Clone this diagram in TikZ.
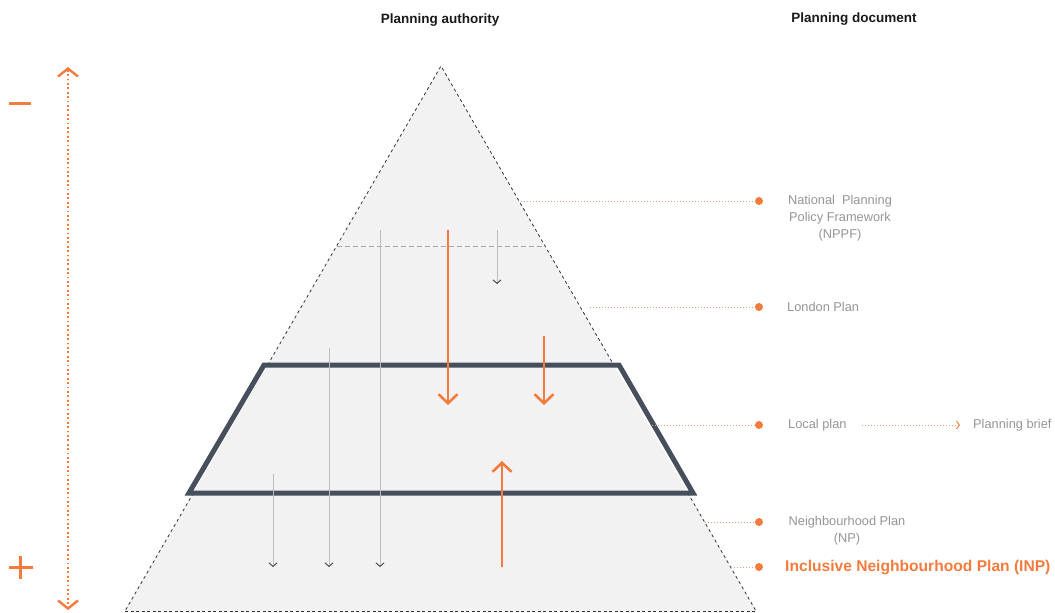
\documentclass[tikz,border=0pt]{standalone}
\usepackage{fontspec}
\setmainfont{Liberation Sans}
\usetikzlibrary{arrows.meta}
\definecolor{org}{HTML}{F47B3E}
\definecolor{lorg}{HTML}{F39A74}
\definecolor{dark}{HTML}{474F5C}
\definecolor{fillg}{HTML}{F2F2F2}
\definecolor{txtg}{HTML}{959595}
\definecolor{arrg}{HTML}{BDBDBD}
\tikzset{
  tridash/.style={draw=black!80, line width=0.8pt, dash pattern=on 3pt off 3pt},
  basedash/.style={draw=black!80, line width=1pt, dash pattern=on 3pt off 2.5pt},
  midline/.style={draw=black!35, line width=1pt, dash pattern=on 5pt off 3pt},
  trap/.style={draw=dark, line width=5pt, line join=miter},
  grayarrow/.style={draw=arrg, line width=1pt, -{Straight Barb[length=3.5pt,width=8pt,color=black!75,line width=0.9pt]}},
  bigarrow/.style={draw=org, line width=2.8pt, -{Straight Barb[length=9pt,width=19pt,line width=2.6pt]}},
  scalearrow/.style={draw=org, line width=1.8pt, dash pattern=on 1.8pt off 2.6pt,
     {Straight Barb[length=8pt,width=20pt,line width=2.4pt]}-{Straight Barb[length=8pt,width=20pt,line width=2.4pt]}},
  leader/.style={draw=lorg, line width=0.9pt, dash pattern=on 1pt off 2pt},
  dotm/.style={circle, fill=org, inner sep=0pt, minimum size=8pt},
  lbl/.style={text=txtg, font=\fontsize{12.8}{17}\selectfont, inner sep=0pt},
  hdr/.style={text=black!90, font=\fontsize{13.5}{16}\selectfont\bfseries, inner sep=0pt},
  sign/.style={draw=org, line width=3pt}
}
\begin{document}
\begin{tikzpicture}[x=1pt,y=-1pt]
\useasboundingbox (0,0) rectangle (1055,613);
% headers
\node[hdr] (h1) at (440,20) {Planning authority};
\node[hdr] (h2) at (854,19) {Planning document};
% pyramid
\coordinate (apex) at (441,66);
\coordinate (bl) at (125,611);
\coordinate (br) at (756,611);
\coordinate (lu) at (267.6,365);
\coordinate (ll) at (193.4,493);
\coordinate (ru) at (613.8,365);
\coordinate (rl) at (687.8,493);
\fill[fillg] (apex) -- (bl) -- (br) -- cycle;
\draw[tridash] (lu) -- (apex) -- (ru);
\draw[tridash] (ll) -- (bl);
\draw[tridash] (rl) -- (br);
\draw[basedash] (bl) -- (br);
\coordinate (ml) at (337,246);
\coordinate (mr) at (545,246);
\draw[midline] (ml) -- (mr);
% trapezoid
\coordinate (t1) at (264,365);
\coordinate (t2) at (619,365);
\coordinate (t3) at (693,493);
\coordinate (t4) at (189,493);
\draw[trap] (t1) -- (t2) -- (t3) -- (t4) -- cycle;
% gray arrows
\coordinate (g1s) at (380,230); \coordinate (g1e) at (380,567);
\coordinate (g2s) at (329,348); \coordinate (g2e) at (329,567);
\coordinate (g3s) at (273,474); \coordinate (g3e) at (273,567);
\coordinate (g4s) at (497,230); \coordinate (g4e) at (497,284);
\draw[grayarrow] (g1s) -- (g1e);
\draw[grayarrow] (g2s) -- (g2e);
\draw[grayarrow] (g3s) -- (g3e);
\draw[grayarrow] (g4s) -- (g4e);
% orange arrows
\coordinate (o1s) at (448,230); \coordinate (o1e) at (448,405);
\coordinate (o2s) at (544,336); \coordinate (o2e) at (544,405);
\coordinate (o3s) at (502,567); \coordinate (o3e) at (502,461);
\draw[bigarrow] (o1s) -- (o1e);
\draw[bigarrow] (o2s) -- (o2e);
\draw[bigarrow] (o3s) -- (o3e);
% scale arrow
\coordinate (s1) at (68,67);
\coordinate (s2) at (68,610);
\draw[scalearrow] (s1) -- (s2);
\coordinate (m1) at (9,103); \coordinate (m2) at (31,103);
\draw[sign] (m1) -- (m2);
\coordinate (p1) at (9,567); \coordinate (p2) at (33,567);
\coordinate (p3) at (20,556); \coordinate (p4) at (20,579);
\draw[sign] (p1) -- (p2);
\draw[sign] (p3) -- (p4);
% leaders and dots
\node[dotm] (d1) at (759,201) {};
\node[dotm] (d2) at (759,307) {};
\node[dotm] (d3) at (759,425) {};
\node[dotm] (d4) at (759,522) {};
\node[dotm] (d5) at (759,567) {};
\coordinate (e1) at (521,201);
\coordinate (e2) at (590,307);
\coordinate (e3) at (652,425);
\coordinate (e4) at (705,522);
\coordinate (e5) at (731,567);
\draw[leader] (e1) -- (d1);
\draw[leader] (e2) -- (d2);
\draw[leader] (e3) -- (d3);
\draw[leader] (e4) -- (d4);
\draw[leader] (e5) -- (d5);
% labels
\node[lbl, align=center] (l1) at (840,218) {National\ \ Planning\\Policy Framework\\(NPPF)};
\node[lbl, anchor=west] (l2) at (787,307) {London Plan};
\node[lbl, anchor=west] (l3) at (788,425) {Local plan};
\node[lbl, anchor=west] (l5) at (973,425) {Planning brief};
\coordinate (b1) at (862,425);
\coordinate (b2) at (960,425);
\draw[leader, -{Straight Barb[length=3pt,width=8pt,line width=0.9pt,color=org]}] (b1) -- (b2);
\node[lbl, align=center] (l4) at (847,531) {Neighbourhood Plan\\(NP)};
\node[anchor=west, inner sep=0pt, text=org, font=\fontsize{15.6}{18}\selectfont\bfseries] (l6) at (785,567) {Inclusive Neighbourhood Plan (INP)};
\end{tikzpicture}
\end{document}
